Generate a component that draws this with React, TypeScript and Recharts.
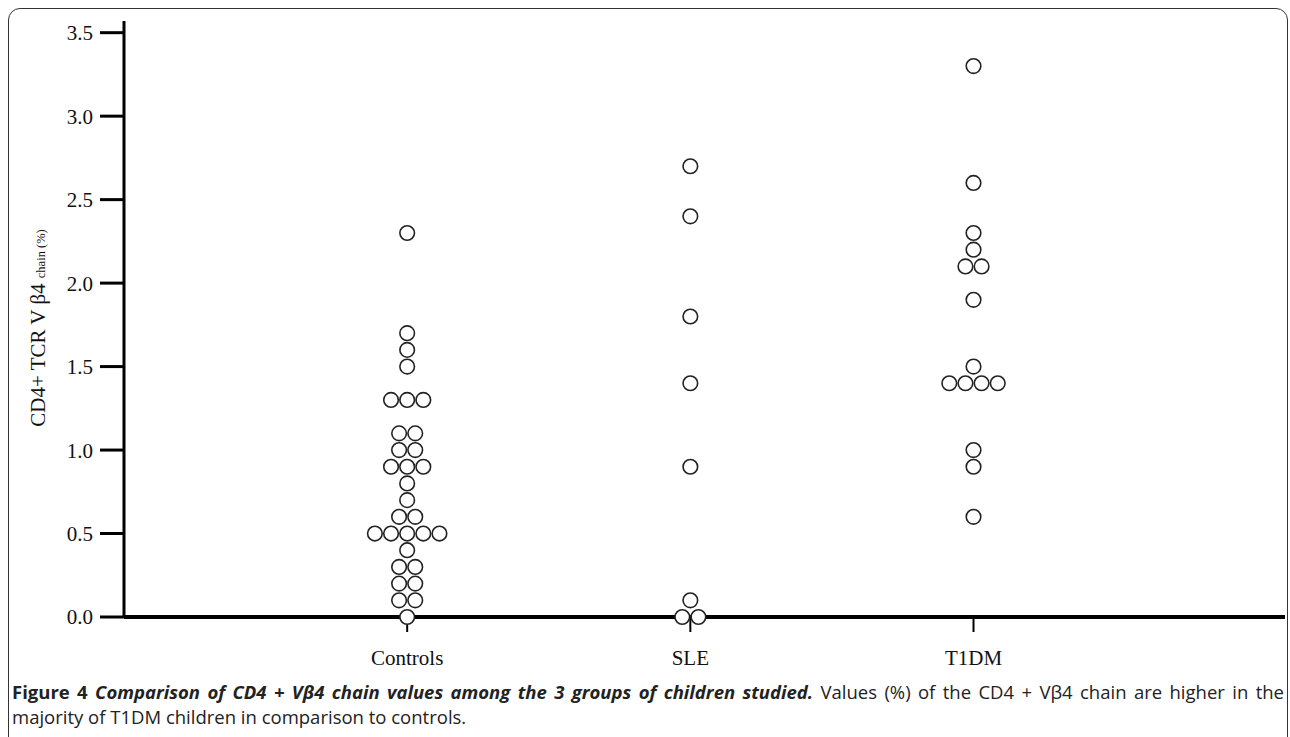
import React from "react";
import { ScatterChart, Scatter, XAxis, YAxis, Label } from "recharts";

const categories = ["Controls", "SLE", "T1DM"];
const controls = [
  2.3, 1.7, 1.6, 1.5, 1.3, 1.3, 1.3, 1.1, 1.1, 1.0, 1.0, 0.9, 0.9, 0.9, 0.8, 0.7,
  0.6, 0.6, 0.5, 0.5, 0.5, 0.5, 0.5, 0.4, 0.3, 0.3, 0.2, 0.2, 0.1, 0.1, 0,
];
const sle = [2.7, 2.4, 1.8, 1.4, 0.9, 0.1, 0, 0];
const t1dm = [3.3, 2.6, 2.3, 2.2, 2.1, 2.1, 1.9, 1.5, 1.4, 1.4, 1.4, 1.4, 1.0, 0.9, 0.6];
const yTicks = [0, 0.5, 1, 1.5, 2, 2.5, 3, 3.5];

// horizontal gap between stacked dots, in x units
const SPREAD = 0.057;

// lay out equal values side by side, centred on the group position
function swarm(values: number[], pos: number) {
  const groups = new Map<number, number>();
  values.forEach((v) => groups.set(v, (groups.get(v) || 0) + 1));
  const seen = new Map<number, number>();
  return values.map((v) => {
    const n = groups.get(v) || 1;
    const i = seen.get(v) || 0;
    seen.set(v, i + 1);
    return { x: pos + (i - (n - 1) / 2) * SPREAD, y: v };
  });
}

const series = [controls, sle, t1dm].map((vals, i) => swarm(vals, i + 1));

const Ring = (props: any) => (
  <circle cx={props.cx} cy={props.cy} r={7.3} fill="#fff" stroke="#222" strokeWidth={1.6} />
);

const serif = "'Liberation Serif', 'Times New Roman', serif";

function YLabel() {
  return (
    <text
      x={45}
      y={328}
      transform="rotate(-90 45 328)"
      textAnchor="middle"
      fontFamily={serif}
      fontSize={21}
      fill="#111"
    >
      CD4+ TCR V β4 <tspan fontSize={12.5}>chain (%)</tspan>
    </text>
  );
}

const captionStyle: React.CSSProperties = {
  position: "absolute",
  left: 12,
  width: 1272,
  fontFamily: "'Open Sans', sans-serif",
  fontSize: 18.5,
  lineHeight: "25px",
  color: "#222",
  whiteSpace: "nowrap",
};

export default function App() {
  return (
    <div style={{ position: "absolute", left: 0, top: 0, width: 1290, height: 737, overflow: "hidden", background: "#fff" }}>
      <div
        style={{
          position: "absolute",
          left: 8,
          top: 8,
          width: 1278,
          height: 740,
          border: "1.5px solid #333",
          borderRadius: 12,
        }}
      />
      <div style={{ position: "absolute", left: 0, top: 0 }}>
        <ScatterChart width={1290} height={680} margin={{ top: 21, right: 5, bottom: 0, left: 0 }}>
          <XAxis
            type="number"
            dataKey="x"
            domain={[0, 4.1]}
            ticks={[1, 2, 3]}
            tickFormatter={(v: number) => categories[v - 1] || ""}
            height={63}
            tickSize={15}
            axisLine={{ stroke: "#000", strokeWidth: 4 }}
            tickLine={{ stroke: "#000", strokeWidth: 2 }}
            tick={{ fontFamily: serif, fontSize: 21, fill: "#111", dy: 16 }}
          />
          <YAxis
            type="number"
            dataKey="y"
            domain={[0, 3.57]}
            ticks={yTicks}
            width={124}
            tickSize={24}
            tickMargin={7}
            tickFormatter={(v: number) => v.toFixed(1)}
            axisLine={{ stroke: "#000", strokeWidth: 3 }}
            tickLine={{ stroke: "#000", strokeWidth: 3 }}
            tick={{ fontFamily: serif, fontSize: 21, fill: "#111" }}
          >
            <Label content={<YLabel />} />
          </YAxis>
          {series.map((d, i) => (
            <Scatter key={categories[i]} data={d} shape={<Ring />} isAnimationActive={false} />
          ))}
        </ScatterChart>
      </div>
      <div style={{ ...captionStyle, top: 679, textAlign: "justify", textAlignLast: "justify", whiteSpace: "normal" }}>
        <b>Figure 4</b>{" "}
        <b>
          <i>Comparison of CD4 + Vβ4 chain values among the 3 groups of children studied.</i>
        </b>{" "}
        <span>Values (%) of the CD4 + Vβ4 chain are higher in the</span>
      </div>
      <div style={{ ...captionStyle, top: 704 }}>majority of T1DM children in comparison to controls.</div>
    </div>
  );
}
